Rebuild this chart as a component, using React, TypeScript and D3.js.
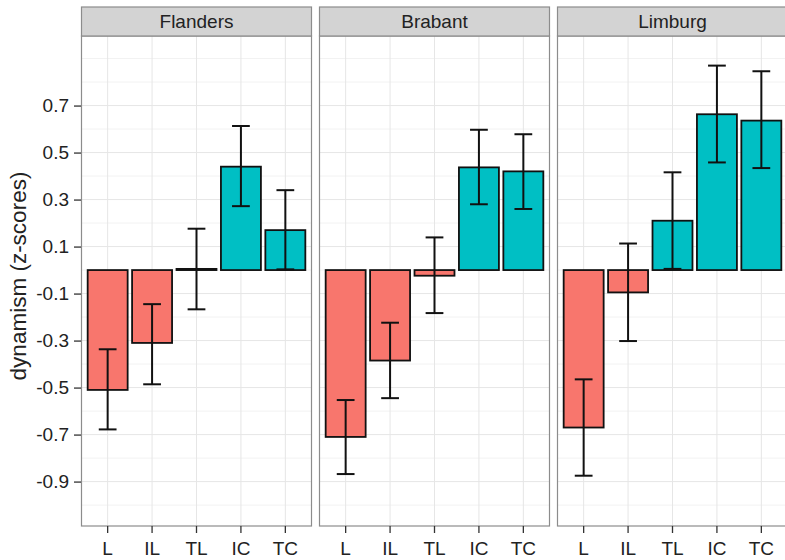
import { useEffect, useRef } from 'react';
import * as d3 from 'd3';

const regions = ['Flanders', 'Brabant', 'Limburg'];
const categories = ['L', 'IL', 'TL', 'IC', 'TC'];

// mean z-scores per region
const flandersMean = [-0.51, -0.31, 0.005, 0.44, 0.17];
const brabantMean = [-0.71, -0.385, -0.024, 0.437, 0.42];
const limburgMean = [-0.67, -0.095, 0.21, 0.663, 0.636];

// error bar ends
const flandersLow = [-0.678, -0.486, -0.167, 0.272, 0.003];
const flandersHigh = [-0.337, -0.145, 0.176, 0.613, 0.34];
const brabantLow = [-0.868, -0.545, -0.183, 0.28, 0.26];
const brabantHigh = [-0.553, -0.224, 0.139, 0.597, 0.578];
const limburgLow = [-0.875, -0.302, 0.005, 0.458, 0.434];
const limburgHigh = [-0.465, 0.113, 0.416, 0.87, 0.846];

const yTicks = [-0.9, -0.7, -0.5, -0.3, -0.1, 0.1, 0.3, 0.5, 0.7];
const yMinor = [-1.0, -0.8, -0.6, -0.4, -0.2, 0.0, 0.2, 0.4, 0.6, 0.8, 0.9];

export default function App() {
  const svgRef = useRef(null);

  useEffect(() => {
    const width = 785;
    const height = 560;
    const svg = d3.select(svgRef.current);
    svg.attr('width', width).attr('height', height);
    svg.selectAll('*').remove();

    const font = '"Liberation Sans", Arial, sans-serif';
    const textColor = '#222';
    const panelW = 231;
    const gap = 7;
    const left = 81;
    const stripTop = 7;
    const stripH = 29;
    const top = stripTop + stripH;
    const bottom = 526;

    const y = d3.scaleLinear().domain([-1.089, 0.996]).range([bottom, top]);

    const means = [flandersMean, brabantMean, limburgMean];
    const lows = [flandersLow, brabantLow, limburgLow];
    const highs = [flandersHigh, brabantHigh, limburgHigh];

    regions.forEach((region, p) => {
      const x0 = left + p * (panelW + gap);
      // ggplot-like discrete expansion: 0.6 units each side, bar width 0.9
      const x = d3
        .scaleBand()
        .domain(categories)
        .range([x0, x0 + panelW])
        .paddingInner(0.1)
        .paddingOuter(0.15);
      const cx = (c) => x(c) + x.bandwidth() / 2;
      const step = x.step();

      const g = svg.append('g');
      g.append('rect')
        .attr('x', x0)
        .attr('y', top)
        .attr('width', panelW)
        .attr('height', bottom - top)
        .attr('fill', 'white');

      // grid
      g.selectAll('.minor')
        .data(yMinor)
        .join('line')
        .attr('x1', x0)
        .attr('x2', x0 + panelW)
        .attr('y1', (d) => y(d))
        .attr('y2', (d) => y(d))
        .attr('stroke', '#f2f2f2')
        .attr('stroke-width', 1);
      g.selectAll('.major')
        .data(yTicks)
        .join('line')
        .attr('x1', x0)
        .attr('x2', x0 + panelW)
        .attr('y1', (d) => y(d))
        .attr('y2', (d) => y(d))
        .attr('stroke', '#e6e6e6')
        .attr('stroke-width', 1);
      g.selectAll('.vgrid')
        .data(categories)
        .join('line')
        .attr('x1', (c) => cx(c))
        .attr('x2', (c) => cx(c))
        .attr('y1', top)
        .attr('y2', bottom)
        .attr('stroke', '#e6e6e6')
        .attr('stroke-width', 1);

      const rows = categories.map((c, i) => ({
        c,
        m: means[p][i],
        lo: lows[p][i],
        hi: highs[p][i],
      }));

      // bars
      g.selectAll('.bar')
        .data(rows)
        .join('rect')
        .attr('x', (d) => x(d.c))
        .attr('width', x.bandwidth())
        .attr('y', (d) => y(Math.max(0, d.m)))
        .attr('height', (d) => Math.abs(y(d.m) - y(0)))
        .attr('fill', (d) => (d.m < 0 ? '#F8766D' : '#00BFC4'))
        .attr('stroke', '#111')
        .attr('stroke-width', 1.8);

      // error bars
      const eb = g.selectAll('.eb').data(rows).join('g');
      const cap = step * 0.2;
      eb.append('line')
        .attr('x1', (d) => cx(d.c))
        .attr('x2', (d) => cx(d.c))
        .attr('y1', (d) => y(d.lo))
        .attr('y2', (d) => y(d.hi))
        .attr('stroke', '#111')
        .attr('stroke-width', 2);
      eb.append('line')
        .attr('x1', (d) => cx(d.c) - cap)
        .attr('x2', (d) => cx(d.c) + cap)
        .attr('y1', (d) => y(d.lo))
        .attr('y2', (d) => y(d.lo))
        .attr('stroke', '#111')
        .attr('stroke-width', 2);
      eb.append('line')
        .attr('x1', (d) => cx(d.c) - cap)
        .attr('x2', (d) => cx(d.c) + cap)
        .attr('y1', (d) => y(d.hi))
        .attr('y2', (d) => y(d.hi))
        .attr('stroke', '#111')
        .attr('stroke-width', 2);

      // panel border
      g.append('rect')
        .attr('x', x0 + 0.5)
        .attr('y', top)
        .attr('width', panelW - 1)
        .attr('height', bottom - top)
        .attr('fill', 'none')
        .attr('stroke', '#8c8c8c')
        .attr('stroke-width', 1.2);

      // strip
      g.append('rect')
        .attr('x', x0 + 0.5)
        .attr('y', stripTop)
        .attr('width', panelW - 1)
        .attr('height', stripH)
        .attr('fill', '#d3d3d3')
        .attr('stroke', '#8c8c8c')
        .attr('stroke-width', 1.2);
      g.append('text')
        .attr('x', x0 + panelW / 2)
        .attr('y', stripTop + stripH / 2)
        .attr('dy', '0.36em')
        .attr('text-anchor', 'middle')
        .attr('font-family', font)
        .attr('font-size', 19)
        .attr('fill', textColor)
        .text(region);

      // x axis
      const xa = g
        .append('g')
        .attr('transform', `translate(0,${bottom})`)
        .call(d3.axisBottom(x).tickSize(7).tickSizeOuter(0).tickPadding(9));
      xa.select('.domain').remove();
      xa.selectAll('line').attr('stroke', '#333').attr('stroke-width', 1.3);
      xa.selectAll('text')
        .attr('font-family', font)
        .attr('font-size', 19)
        .attr('fill', textColor);
    });

    // y axis
    const fmt = d3.format('.1f');
    const ya = svg
      .append('g')
      .attr('transform', `translate(${left},0)`)
      .call(
        d3
          .axisLeft(y)
          .tickValues(yTicks)
          .tickFormat((d) => fmt(d).replace('\u2212', '-'))
          .tickSize(7)
          .tickSizeOuter(0)
          .tickPadding(5),
      );
    ya.select('.domain').remove();
    ya.selectAll('line').attr('stroke', '#333').attr('stroke-width', 1.3);
    ya.selectAll('text')
      .attr('font-family', font)
      .attr('font-size', 19)
      .attr('fill', textColor);

    svg
      .append('text')
      .attr('transform', `translate(26,${(top + bottom) / 2 - 5}) rotate(-90)`)
      .attr('text-anchor', 'middle')
      .attr('font-family', font)
      .attr('font-size', 22.5)
      .attr('fill', textColor)
      .text('dynamism (z-scores)');
  }, []);

  return (
    <svg
      ref={svgRef}
      style={{ position: 'absolute', left: 0, top: 0, background: 'white' }}
    ></svg>
  );
}
